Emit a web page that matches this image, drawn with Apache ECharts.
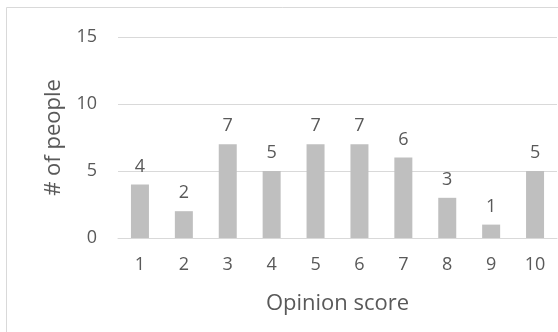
<!DOCTYPE html>
<html>
<head>
<meta charset="utf-8">
<script src="https://cdn.jsdelivr.net/npm/echarts@6/dist/echarts.min.js"></script>
<style>
  html, body { margin: 0; padding: 0; background: #ffffff; }
  #chart { width: 558px; height: 332px; }
</style>
</head>
<body>
<div id="chart"></div>
<script>
// Opinion scores 1..10 and how many people gave each
const scores = ['1', '2', '3', '4', '5', '6', '7', '8', '9', '10'];
const peopleCounts = [4, 2, 7, 5, 7, 7, 6, 3, 1, 5];
const yTicks = [0, 5, 10, 15];

const textColor = '#595959';
const lineColor = '#d9d9d9';
const fontFamily = '"Open Sans", "Noto Sans", sans-serif';
const fontSize = 18;
const titleSize = 22;

const chart = echarts.init(document.getElementById('chart'));
chart.setOption({
  animation: false,
  backgroundColor: '#ffffff',
  graphic: [{
    type: 'rect',
    shape: { x: 6.5, y: 7.5, width: 700, height: 500 },
    style: { fill: 'none', stroke: lineColor, lineWidth: 1 },
    silent: true
  }],
  grid: { left: 118, right: 1, top: 37, bottom: 94 },
  xAxis: {
    type: 'category',
    data: scores,
    name: 'Opinion score',
    nameLocation: 'middle',
    nameGap: 55,
    nameTextStyle: { color: textColor, fontSize: titleSize, fontFamily: fontFamily },
    axisLine: { show: true, lineStyle: { color: lineColor, width: 1 } },
    axisTick: { show: false },
    axisLabel: { color: textColor, fontSize: fontSize, fontFamily: fontFamily, margin: 18 }
  },
  yAxis: {
    type: 'value',
    min: yTicks[0],
    max: yTicks[yTicks.length - 1],
    interval: yTicks[1] - yTicks[0],
    name: '# of people',
    nameLocation: 'middle',
    nameGap: 53,
    nameTextStyle: { color: textColor, fontSize: titleSize, fontFamily: fontFamily },
    axisLine: { show: false },
    axisTick: { show: false },
    axisLabel: { color: textColor, fontSize: fontSize, fontFamily: fontFamily, margin: 21 },
    splitLine: { lineStyle: { color: lineColor, width: 1 } }
  },
  series: [{
    type: 'bar',
    data: peopleCounts,
    barWidth: 18,
    itemStyle: { color: '#bfbfbf' },
    label: {
      show: true,
      position: 'top',
      distance: 9,
      color: textColor,
      fontSize: fontSize,
      fontFamily: fontFamily
    }
  }]
});
</script>
</body>
</html>
